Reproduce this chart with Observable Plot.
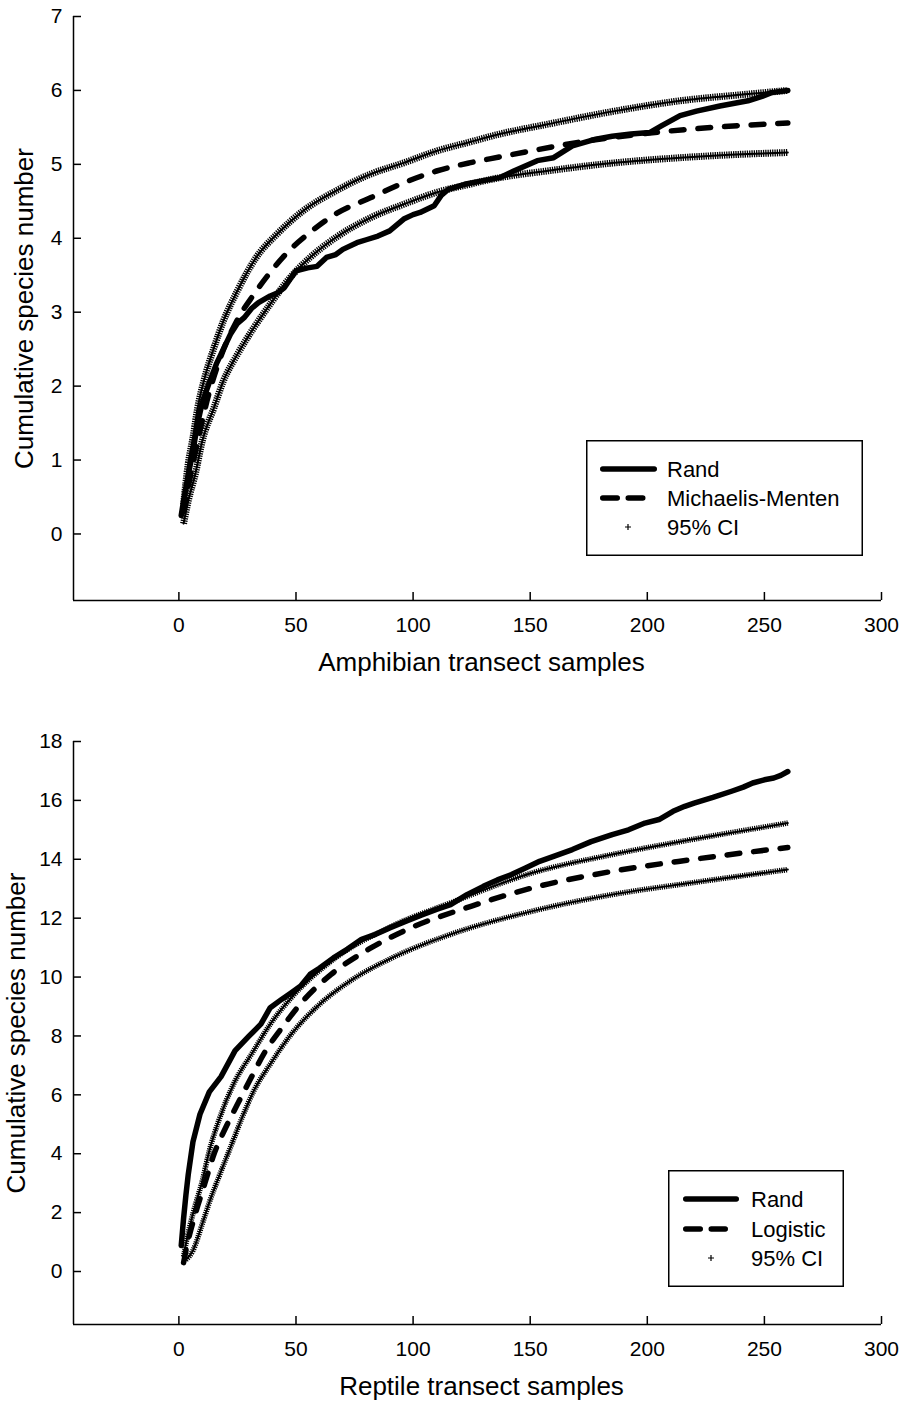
<!DOCTYPE html>
<html><head><meta charset="utf-8">
<script src="https://cdn.jsdelivr.net/npm/d3@7"></script>
<script src="https://cdn.jsdelivr.net/npm/@observablehq/plot@0.6"></script>
<style>
body{margin:0;background:#fff;}
#wrap{position:relative;width:906px;height:1402px;font-family:"Liberation Sans",Arial,sans-serif;background:#fff;}
#wrap > svg{display:block}
.legend{position:absolute;overflow:visible}
</style></head><body><div id="wrap"></div>
<script>
// ---------- data ----------
const xTicks = [0, 50, 100, 150, 200, 250, 300];
const xDomain = [-45, 300];

// Amphibians
const amphYTicks = [0, 1, 2, 3, 4, 5, 6, 7];
const amphYDomain = [-0.9, 7];
const amphRandN = [1,2,4,6,8,10,13,16,19,22,25,28,31,34,39,42,45,48,50,55,59,63,67,70,76,80,85,90,96,100,103,109,112,115,122,130,137,143,153,160,168,178,185,193,201,206,214,221,231,243,249,253,260];
const amphRandV = [0.25,0.45,0.8,1.12,1.5,1.78,2.05,2.3,2.5,2.7,2.85,2.93,3.05,3.13,3.22,3.26,3.33,3.47,3.56,3.6,3.62,3.74,3.78,3.85,3.94,3.98,4.03,4.1,4.26,4.32,4.35,4.44,4.58,4.66,4.73,4.78,4.82,4.91,5.05,5.09,5.25,5.34,5.38,5.41,5.43,5.52,5.66,5.72,5.79,5.86,5.92,5.97,6.0];
const amphMMN = [2,5,8,12,17,25,32,39,47,56,67,82,96,110,124,137,150,171,200,228,260];
const amphMMV = [0.3,0.8,1.25,1.8,2.32,2.9,3.24,3.54,3.83,4.08,4.33,4.55,4.75,4.91,5.02,5.1,5.18,5.3,5.42,5.5,5.56];
const amphUpN = [2,4,6,8,11,15,19,25,33,42,53,67,82,96,110,124,137,157,186,214,243,260];
const amphUpV = [0.4,0.95,1.3,1.7,2.11,2.52,2.88,3.29,3.74,4.06,4.37,4.64,4.87,5.02,5.18,5.3,5.41,5.54,5.72,5.86,5.95,6.0];
const amphLoN = [2,4,7,10,15,19,25,32,39,47,56,67,82,96,110,124,137,157,186,214,243,260];
const amphLoV = [0.14,0.45,0.81,1.26,1.71,2.07,2.43,2.79,3.11,3.45,3.74,4.01,4.28,4.46,4.62,4.73,4.82,4.91,5.02,5.09,5.14,5.16];

// Reptiles
const reptYTicks = [0, 2, 4, 6, 8, 10, 12, 14, 16, 18];
const reptYDomain = [-1.8, 18];
const reptRandN = [1,2,3,4,6,9,13,18,24,30,35,39,44,48,52,56,60,66,72,78,84,90,97,104,110,116,123,130,136,142,148,154,160,168,176,185,192,199,205,211,216,220,228,236,241,245,250,254,257,260];
const reptRandV = [0.88,1.8,2.6,3.3,4.4,5.34,6.1,6.62,7.5,8.0,8.4,8.96,9.25,9.47,9.7,10.09,10.3,10.65,10.95,11.28,11.45,11.67,11.9,12.12,12.3,12.46,12.8,13.08,13.3,13.48,13.7,13.93,14.1,14.33,14.6,14.84,15.0,15.23,15.35,15.63,15.8,15.91,16.1,16.31,16.45,16.59,16.7,16.76,16.85,16.98];
const reptLogN = [2,3,7,11,15,20,25,30,37,44,53,65,82,99,125,151,185,219,260];
const reptLogV = [0.3,0.71,1.95,2.97,3.99,4.89,5.68,6.45,7.49,8.28,9.19,10.09,10.99,11.67,12.41,13.03,13.59,13.99,14.4];
const reptUpN = [2,3,6,10,13,17,24,31,39,48,65,91,116,151,185,219,260];
const reptUpV = [0.5,0.94,1.96,3.08,4.1,5.12,6.47,7.38,8.4,9.3,10.54,11.73,12.52,13.54,14.16,14.67,15.23];
const reptLoN = [3,6,10,13,17,22,27,32,39,48,60,73,91,116,151,185,219,260];
const reptLoV = [0.4,0.71,1.62,2.35,3.2,4.21,5.23,6.14,7.04,8.06,9.07,9.86,10.65,11.45,12.24,12.8,13.2,13.65];

const zipNV = (N, V) => N.map((n, i) => ({n, v: V[i]}));

function panel({height, marginTop, marginBottom, yDomain, yTicks, rand, fit, up, lo, xLabel, yLabelDx, ciWidth, ciDash}) {
  const ci = (d) => [
    Plot.line(d, {x: "n", y: "v", curve: "monotone-x", stroke: "black", strokeWidth: 2}),
    Plot.line(d, {x: "n", y: "v", curve: "monotone-x", stroke: "black", strokeWidth: ciWidth, strokeDasharray: ciDash, strokeLinecap: "butt"})
  ];
  return Plot.plot({
    width: 906, height,
    marginTop, marginBottom, marginLeft: 73, marginRight: 25,
    x: {domain: xDomain},
    y: {domain: yDomain},
    style: {fontFamily: "'Liberation Sans', Arial, sans-serif", fontSize: "21px", color: "black", background: "white", overflow: "visible"},
    marks: [
      Plot.axisX({ticks: xTicks, tickSize: -8, tickPadding: 25, label: null, strokeWidth: 1.5, tickFormat: d => String(d)}),
      Plot.axisY({ticks: yTicks, tickSize: -8, tickPadding: 19, label: null, strokeWidth: 1.5, tickFormat: d => String(d)}),
      Plot.ruleX([xDomain[0]], {stroke: "black", strokeWidth: 1.5}),
      Plot.ruleY([yDomain[0]], {stroke: "black", strokeWidth: 1.5}),
      ...ci(up),
      ...ci(lo),
      Plot.line(fit, {x: "n", y: "v", curve: "monotone-x", stroke: "black", strokeWidth: 5.5, strokeDasharray: "12.8,13.9", strokeLinecap: "round"}),
      Plot.line(rand, {x: "n", y: "v", stroke: "black", strokeWidth: 5.5, strokeLinecap: "round", strokeLinejoin: "round"}),
      Plot.text([xLabel], {text: d => d, frameAnchor: "bottom", dy: 62, dx: 4, fontSize: 26, textAnchor: "middle", lineAnchor: "middle"}),
      Plot.text(["Cumulative species number"], {text: d => d, frameAnchor: "left", dx: yLabelDx, rotate: -90, fontSize: 26, textAnchor: "middle", lineAnchor: "middle"})
    ]
  });
}

const wrap = document.getElementById("wrap");
wrap.appendChild(panel({
  height: 700, marginTop: 16, marginBottom: 100,
  yDomain: amphYDomain, yTicks: amphYTicks,
  rand: zipNV(amphRandN, amphRandV), fit: zipNV(amphMMN, amphMMV),
  up: zipNV(amphUpN, amphUpV), lo: zipNV(amphLoN, amphLoV),
  xLabel: "Amphibian transect samples", yLabelDx: -49, ciWidth: 7, ciDash: "1.3,1"
}));
wrap.appendChild(panel({
  height: 702, marginTop: 41, marginBottom: 78,
  yDomain: reptYDomain, yTicks: reptYTicks,
  rand: zipNV(reptRandN, reptRandV), fit: zipNV(reptLogN, reptLogV),
  up: zipNV(reptUpN, reptUpV), lo: zipNV(reptLoN, reptLoV),
  xLabel: "Reptile transect samples", yLabelDx: -57, ciWidth: 5.5, ciDash: "1.2,1"
}));

// ---------- legends ----------
function legend({left, top, w, h, rows, swatchX0, swatchX1, dashX1, textX, plusX, labels}) {
  const svg = d3.select(wrap).append("svg").attr("class", "legend")
    .style("left", left + "px").style("top", top + "px")
    .attr("width", w).attr("height", h);
  svg.append("rect").attr("x", 0.75).attr("y", 0.75).attr("width", w - 1.5).attr("height", h - 1.5)
    .attr("fill", "white").attr("stroke", "black").attr("stroke-width", 1.5);
  svg.append("line").attr("x1", swatchX0 + 2.75).attr("x2", swatchX1 - 2.75).attr("y1", rows[0]).attr("y2", rows[0])
    .attr("stroke", "black").attr("stroke-width", 5.5).attr("stroke-linecap", "round");
  svg.append("line").attr("x1", swatchX0 + 2.75).attr("x2", dashX1 - 2.75).attr("y1", rows[1]).attr("y2", rows[1])
    .attr("stroke", "black").attr("stroke-width", 5.5).attr("stroke-linecap", "round").attr("stroke-dasharray", "14.5,11");
  svg.append("path").attr("d", `M${plusX - 3},${rows[2]}h6M${plusX},${rows[2] - 3}v6`)
    .attr("stroke", "black").attr("stroke-width", 1.2);
  labels.forEach((t, i) => {
    svg.append("text").attr("x", textX).attr("y", rows[i]).attr("dy", "0.36em")
      .attr("font-size", 22).attr("font-family", "'Liberation Sans', Arial, sans-serif").text(t);
  });
}
legend({left: 586, top: 440, w: 277, h: 116, rows: [29, 58, 87], swatchX0: 14, swatchX1: 71, dashX1: 60, textX: 81, plusX: 42,
  labels: ["Rand", "Michaelis-Menten", "95% CI"]});
legend({left: 668, top: 1170, w: 176, h: 117, rows: [29, 59, 88], swatchX0: 15, swatchX1: 71, dashX1: 60, textX: 83, plusX: 43,
  labels: ["Rand", "Logistic", "95% CI"]});
</script></body></html>
